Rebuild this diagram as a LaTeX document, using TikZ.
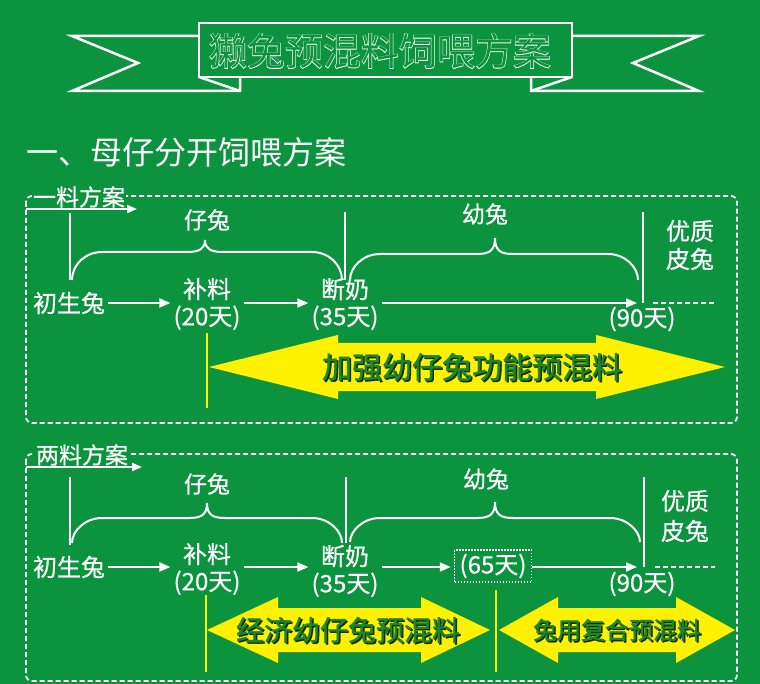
\documentclass[tikz,border=0pt]{standalone}
\usepackage{fontspec}
\setmainfont{Noto Sans CJK SC}[FakeBold=0.6]
\newfontfamily\titlew[FakeBold=2.5]{Noto Sans CJK SC}
\newfontfamily\titlen{Noto Sans CJK SC}
\newfontfamily\headf{Noto Sans CJK SC}
\newfontfamily\arrf[FakeBold=1.2]{Noto Sans CJK SC}
\usetikzlibrary{arrows.meta,calc}
\definecolor{bg}{RGB}{12,147,62}
\definecolor{yel}{RGB}{255,241,0}
\definecolor{txtg}{RGB}{30,134,42}
\definecolor{shad}{RGB}{16,48,16}
\tikzset{
  wline/.style={white, line width=2pt},
  warr/.style={white, line width=2pt, -{Triangle[length=11pt,width=9pt]}},
  dashbox/.style={white, line width=1.8pt, dash pattern=on 5pt off 3pt, rounded corners=6pt},
  dashln/.style={white, line width=1.8pt, dash pattern=on 5pt off 3pt},
  ribbon/.style={white, line width=2.5pt, line join=miter},
  lbl/.style={text=white, font=\fontsize{23}{23}\selectfont, inner sep=1pt, fill=bg},
  tx/.style={text=white, font=\fontsize{24}{27}\selectfont, inner sep=3pt, align=center},
  grp/.style={text=white, font=\fontsize{23}{23}\selectfont, inner sep=1pt},
  ylin/.style={yel, line width=2.2pt},
}
\newcommand{\dblarr}[7]{\fill[yel] (#1,#5) -- (#2,#5-#6) -- (#2,#5-#7) -- (#3,#5-#7) -- (#3,#5-#6) -- (#4,#5) -- (#3,#5+#6) -- (#3,#5+#7) -- (#2,#5+#7) -- (#2,#5+#6) -- cycle;}
\newcommand{\shtext}[5]{%
  \node[text=shad, font=\arrf\fontsize{#4}{#4}\selectfont, inner sep=0pt] (#1s) at (#2+1.5,#3+1.5) {#5};
  \node[text=txtg, font=\arrf\fontsize{#4}{#4}\selectfont, inner sep=0pt] (#1) at (#2,#3) {#5};}
\newcommand{\rbbrace}[6]{%
  \draw[wline] (#1,#4) .. controls (#1,#5+13) and (#1+13,#5) .. (#1+30,#5) -- (#3-18,#5)
     .. controls (#3-6,#5) and (#3,#5-3) .. (#3,#6)
     .. controls (#3,#5-3) and (#3+6,#5) .. (#3+18,#5) -- (#2-30,#5)
     .. controls (#2-13,#5) and (#2,#5+13) .. (#2,#4);}
\begin{document}
\begin{tikzpicture}[x=1pt,y=-1pt]
\useasboundingbox (0,0) rectangle (760,684);
\fill[bg] (0,0) rectangle (760,684);

% ---- title ribbon ----
\draw[ribbon] (199,36) -- (72,36) -- (138,63) -- (72,91) -- (240,91) -- (240,77);
\draw[ribbon] (199,77) -- (240,91);
\draw[ribbon] (572,36) -- (699,36) -- (633,63) -- (699,91) -- (531,91) -- (531,77);
\draw[ribbon] (572,77) -- (531,91);
\draw[ribbon, fill=bg] (199,23) rectangle (572,77);
\node[text=white, font=\titlew\fontsize{38}{38}\selectfont, inner sep=0pt] (titlew) at (380,51) {獭兔预混料饲喂方案};
\node[text=bg, font=\titlen\fontsize{38}{38}\selectfont, inner sep=0pt] (title) at (380,51) {獭兔预混料饲喂方案};

% ---- heading ----
\node[text=white, font=\headf\fontsize{32}{32}\selectfont, anchor=west, inner sep=0pt] (head) at (26,152) {一、母仔分开饲喂方案};

% ================= box 1 =================
\draw[dashbox] (26,196) rectangle (737,423);
\node[lbl] (lab1) at (79,197) {一料方案};
\coordinate (la1) at (26,209);
\coordinate (lb1) at (137,209);
\draw[warr, -{Triangle[length=10pt,width=8pt]}] (la1) -- (lb1);

\coordinate (v1t) at (70,213);  \coordinate (v1b) at (70,280);
\coordinate (v2t) at (345,212); \coordinate (v2b) at (345,280);
\coordinate (v3t) at (643,212); \coordinate (v3b) at (643,303);
\draw[wline] (v1t) -- (v1b);
\draw[wline] (v2t) -- (v2b);
\draw[wline] (v3t) -- (v3b);
\rbbrace{72}{342}{205}{280}{252}{240}
\rbbrace{350}{638}{495}{280}{254}{238}
\node[grp] (zt1) at (207,220) {仔兔};
\node[grp] (yt1) at (485,214) {幼兔};
\node[tx, font=\fontsize{24}{28}\selectfont] (yz1) at (690,245) {优质\\皮兔};

\node[tx] (c1) at (69,303) {初生兔};
\node[tx] (b1) at (207,304) {补料\\(20天)};
\node[tx] (d1) at (345,304) {断奶\\(35天)};
\node[tx] (n1) at (642,319) {(90天)};
\draw[warr] (c1.east) -- (c1.east -| b1.west);
\draw[warr] (b1.east |- c1.east) -- (c1.east -| d1.west);
\draw[warr, shorten >=6pt] (d1.east |- c1.east) -- (v3b);
\coordinate (dl1) at (653,303); \coordinate (dr1) at (715,303);
\draw[dashln] (dl1) -- (dr1);

\coordinate (y1t) at (207,333); \coordinate (y1b) at (207,408);
\draw[ylin] (y1t) -- (y1b);
\dblarr{209}{338}{596}{725}{367}{32}{24}
\shtext{m1}{472}{367}{30}{加强幼仔兔功能预混料}

% ================= box 2 =================
\draw[dashbox] (26,454) rectangle (737,681);
\node[lbl] (lab2) at (82,455) {两料方案};
\coordinate (la2) at (26,467);
\coordinate (lb2) at (142,467);
\draw[warr, -{Triangle[length=10pt,width=8pt]}] (la2) -- (lb2);

\coordinate (w1t) at (70,477);  \coordinate (w1b) at (70,545);
\coordinate (w2t) at (346,477); \coordinate (w2b) at (346,543);
\coordinate (w3t) at (644,477); \coordinate (w3b) at (644,567);
\draw[wline] (w1t) -- (w1b);
\draw[wline] (w2t) -- (w2b);
\draw[wline] (w3t) -- (w3b);
\rbbrace{72}{342}{207}{543}{518}{503}
\rbbrace{350}{640}{495}{542}{518}{502}
\node[grp] (zt2) at (207,484) {仔兔};
\node[grp] (yt2) at (486,479) {幼兔};
\node[tx, font=\fontsize{24}{30}\selectfont] (yz2) at (685,516) {优质\\皮兔};

\node[tx] (c2) at (69,567) {初生兔};
\node[tx] (b2) at (207,569) {补料\\(20天)};
\node[tx] (d2) at (345,571) {断奶\\(35天)};
\node[tx, draw=white, line width=1.5pt, dash pattern=on 1.5pt off 1.5pt, inner sep=0pt, minimum width=77pt, minimum height=32pt] (s2) at (493,566) {(65天)};
\node[tx] (n2) at (642,584) {(90天)};
\draw[warr] (c2.east) -- (c2.east -| b2.west);
\draw[warr] (b2.east |- c2.east) -- (c2.east -| d2.west);
\draw[warr, shorten >=3pt] (d2.east |- c2.east) -- (c2.east -| s2.west);
\draw[warr, shorten >=7pt] (s2.east |- c2.east) -- (w3b);
\coordinate (dl2) at (655,567); \coordinate (dr2) at (715,567);
\draw[dashln] (dl2) -- (dr2);

\coordinate (y2t) at (206,595); \coordinate (y2b) at (206,672);
\coordinate (y3t) at (496,590); \coordinate (y3b) at (496,672);
\draw[ylin] (y2t) -- (y2b);
\draw[ylin] (y3t) -- (y3b);
\dblarr{207}{278}{421}{490}{630}{33}{22}
\dblarr{499}{558}{676}{735}{630}{33}{22}
\shtext{m2}{348}{630}{28}{经济幼仔兔预混料}
\shtext{m3}{617}{630}{24}{兔用复合预混料}
\end{tikzpicture}
\end{document}
